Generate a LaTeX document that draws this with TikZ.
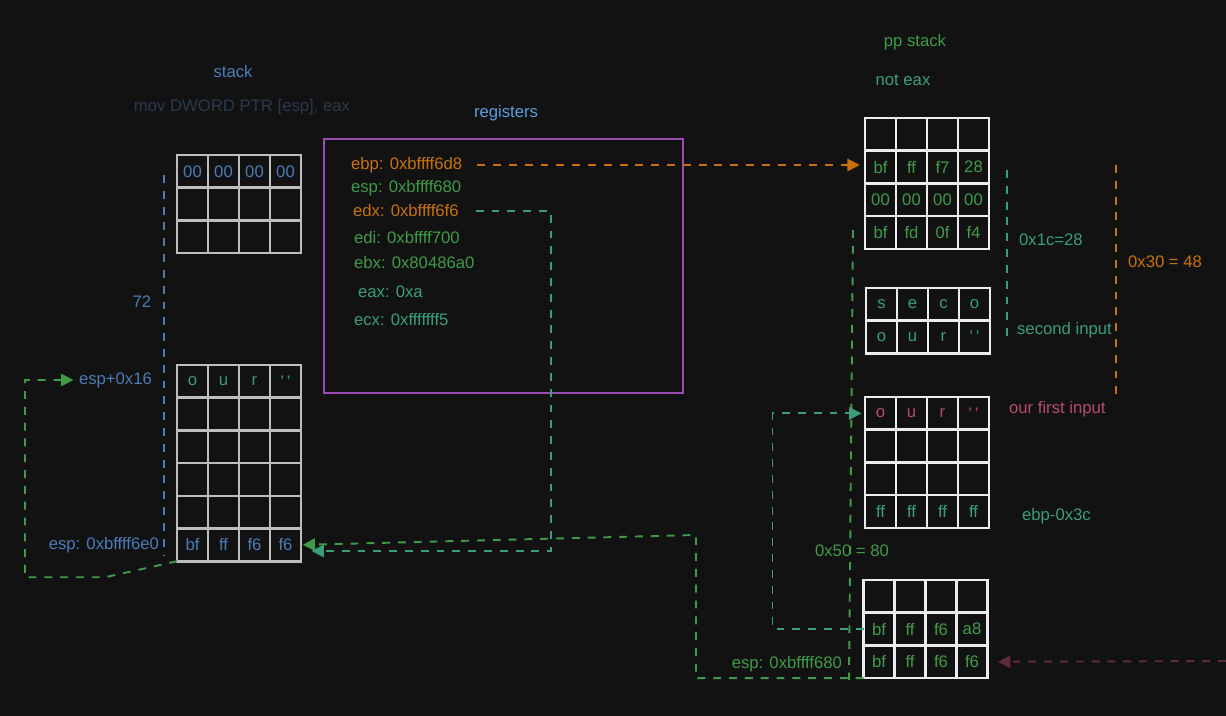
\documentclass[tikz,border=0pt]{standalone}
\usepackage{fontspec}
\setmainfont{Liberation Sans}
\usetikzlibrary{positioning,arrows.meta,calc}
\definecolor{canvas}{HTML}{121212}
\definecolor{stackblue}{HTML}{4B7CB8}
\definecolor{regblue}{HTML}{5B9EE0}
\definecolor{dimslate}{HTML}{2A394C}
\definecolor{amber}{HTML}{C8720E}
\definecolor{leaf}{HTML}{3F9B47}
\definecolor{sea}{HTML}{3A9E7C}
\definecolor{rose}{HTML}{B84A6E}
\definecolor{violet}{HTML}{9B4CB3}
\definecolor{wine}{HTML}{5E2A40}
\definecolor{gridgray}{HTML}{BDBDBD}
\definecolor{gridwhite}{HTML}{ECECEC}
\tikzset{memory/.style={x=0.02cm,y=-0.02cm,font=\fontsize{9.5}{11}\selectfont}}
\tikzset{cell/.style={draw=#1,line width=1.5pt,minimum width=0.62cm,minimum height=0.654cm,inner sep=0pt,outer sep=0pt}}
\tikzset{tag/.style={inner sep=1pt}}
\tikzset{link/.style={draw=#1,line width=1.1pt,dash pattern=on 4.5pt off 4.5pt,-{Triangle[length=7pt,width=7pt]}}}
\tikzset{measure/.style={draw=#1,line width=1.1pt,dash pattern=on 4.5pt off 4.5pt}}
\tikzset{regframe/.style={draw=violet,line width=1pt,minimum width=7.18cm,minimum height=5.08cm,inner sep=0pt}}
% one row of four bytes: name, x, y, line colour, text colour, bytes
\newcommand\byterow[6]{%
  \foreach \byte [count=\i] in {#6}
    \node[cell=#4,text=#5] (#1-\i) at ({#2+31*(\i-1)},#3) {\byte};}

\begin{document}
\begin{tikzpicture}[memory]
  \fill[canvas] (0,0) rectangle (1226,716);
  \useasboundingbox (0,0) rectangle (1226,716);

  % titles
  \node[tag,text=stackblue] (stacktitle) at (233,72) {stack};
  \node[tag,text=dimslate] (movnote) at (242,107) {mov DWORD PTR [esp], eax};
  \node[tag,text=regblue] (regtitle) at (506,113) {registers};
  \node[tag,text=leaf] (pptitle) at (915,42) {pp stack};
  \node[tag,text=sea] (notnote) at (903,80) {not eax};

  % left stack
  \byterow{lt1}{192.5}{171.4}{gridgray}{stackblue}{00,00,00,00}
  \byterow{lt2}{192.5}{204.1}{gridgray}{stackblue}{{},{},{},{}}
  \byterow{lt3}{192.5}{236.8}{gridgray}{stackblue}{{},{},{},{}}
  \byterow{lb1}{192.5}{381.4}{gridgray}{sea}{o,u,r,'\,'}
  \byterow{lb2}{192.5}{414.1}{gridgray}{sea}{{},{},{},{}}
  \byterow{lb3}{192.5}{446.8}{gridgray}{sea}{{},{},{},{}}
  \byterow{lb4}{192.5}{479.5}{gridgray}{sea}{{},{},{},{}}
  \byterow{lb5}{192.5}{512.2}{gridgray}{sea}{{},{},{},{}}
  \byterow{lb6}{192.5}{544.9}{gridgray}{stackblue}{bf,ff,f6,f6}
  \node[tag,text=stackblue] (dist72) at (142,302) {72};
  \node[tag,anchor=east,text=stackblue] (espplus) at (154,380) {esp+0x16};
  \node[tag,anchor=east,text=stackblue] (espleft) at (161,545) {esp: 0xbffff6e0};

  % registers
  \node[regframe] (regbox) at (503.5,266) {};
  \node[tag,anchor=west,text=amber] (ebpreg) at (349,165) {ebp: 0xbffff6d8};
  \node[tag,anchor=west,text=leaf] (espreg) at (349,188) {esp: 0xbffff680};
  \node[tag,anchor=west,text=amber] (edxreg) at (351,211) {edx: 0xbffff6f6};
  \node[tag,anchor=west,text=leaf] (edireg) at (352,238) {edi: 0xbffff700};
  \node[tag,anchor=west,text=leaf] (ebxreg) at (352,263) {ebx: 0x80486a0};
  \node[tag,anchor=west,text=sea] (eaxreg) at (356,292) {eax: 0xa};
  \node[tag,anchor=west,text=sea] (ecxreg) at (352,320) {ecx: 0xfffffff5};

  % pp stack
  \byterow{rt1}{880.5}{134.4}{gridwhite}{leaf}{{},{},{},{}}
  \byterow{rt2}{880.5}{167.1}{gridwhite}{leaf}{bf,ff,f7,28}
  \byterow{rt3}{880.5}{199.8}{gridwhite}{leaf}{00,00,00,00}
  \byterow{rt4}{880.5}{232.5}{gridwhite}{leaf}{bf,fd,0f,f4}
  \byterow{rs1}{881.5}{304.4}{gridwhite}{sea}{s,e,c,o}
  \byterow{rs2}{881.5}{337.1}{gridwhite}{sea}{o,u,r,'\,'}
  \byterow{rm1}{880.5}{413.4}{gridwhite}{rose}{o,u,r,'\,'}
  \byterow{rm2}{880.5}{446.1}{gridwhite}{sea}{{},{},{},{}}
  \byterow{rm3}{880.5}{478.8}{gridwhite}{sea}{{},{},{},{}}
  \byterow{rm4}{880.5}{511.5}{gridwhite}{sea}{ff,ff,ff,ff}
  \byterow{rb1}{879}{596.4}{gridwhite}{leaf}{{},{},{},{}}
  \byterow{rb2}{879}{629.1}{gridwhite}{leaf}{bf,ff,f6,a8}
  \byterow{rb3}{879}{661.8}{gridwhite}{leaf}{bf,ff,f6,f6}
  \node[tag,anchor=west,text=sea] (sizec) at (1017,240) {0x1c=28};
  \node[tag,anchor=west,text=sea] (secondin) at (1015,330) {second input};
  \node[tag,anchor=west,text=amber] (sizethirty) at (1126,262) {0x30 = 48};
  \node[tag,anchor=west,text=rose] (firstin) at (1007,409) {our first input};
  \node[tag,anchor=west,text=sea] (ebpoff) at (1020,516) {ebp-0x3c};
  \node[tag,text=leaf] (sizefifty) at (852,551) {0x50 = 80};
  \node[tag,anchor=east,text=leaf] (espright) at (844,664) {esp: 0xbffff680};

  % dimension lines
  \coordinate (m72a) at (164,175);
  \coordinate (m72b) at (164,555);
  \coordinate (m1ca) at (1007,170);
  \coordinate (m1cb) at (1007,338);
  \coordinate (m30a) at (1116,165);
  \coordinate (m30b) at (1116,400);
  \coordinate (m50a) at (853,230);
  \coordinate (m50b) at (849,680);
  \draw[measure=stackblue] (m72a) -- (m72b);
  \draw[measure=sea] (m1ca) -- (m1cb);
  \draw[measure=amber] (m30a) -- (m30b);
  \draw[measure=leaf] (m50a) -- (m50b);

  % pointers
  \coordinate (edxdrop) at (551,551);
  \coordinate (espturn) at (696,535);
  \coordinate (offcanvas) at (1226,661);
  \draw[link=amber,shorten <=0.26cm,shorten >=3pt] (ebpreg.east) -- (ebpreg.east -| rt2-1.west);
  \draw[link=sea,shorten <=0.3cm,shorten >=6pt] (edxreg.east) -| (edxdrop) -- (edxdrop -| lb6-4.east);
  \draw[link=leaf,shorten >=1pt] (rb3-1.south west) -| (espturn) -- (lb6-4.east);
  \draw[link=sea,shorten >=2pt] (rb2-1.west) -- ++(-91,0) |- (rm1-1.west);
  \draw[link=leaf,shorten >=2pt] (lb6-1.south west) -- ++(-72,16) -- ++(-80,0) |- (espplus.west);
  \draw[link=wine,shorten >=6pt] (offcanvas) -- (rb3-4.east);
\end{tikzpicture}
\end{document}
